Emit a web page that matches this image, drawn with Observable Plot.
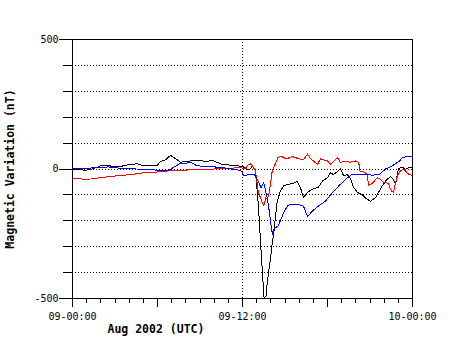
<!DOCTYPE html>
<html>
<head>
<meta charset="utf-8">
<script src="https://cdn.jsdelivr.net/npm/d3@7"></script>
<script src="https://cdn.jsdelivr.net/npm/@observablehq/plot@0.6"></script>
<style>
  html, body { margin: 0; padding: 0; background: #fff; }
  #chart svg { display: block; }
</style>
</head>
<body>
<div id="chart"></div>
<script>
// Hours since 2002-08-09 00:00 UTC, magnetic variation in nT
const blackHours = [0,0.56,0.92,1.41,1.98,2.47,2.9,3.39,4.1,4.6,5.0,5.5,6.0,6.2,6.56,6.92,7.27,7.62,8.12,8.68,9.39,9.95,10.24,10.59,11.15,11.65,12.0,12.28,12.56,12.7,12.92,13.13,13.34,13.52,13.66,13.76,13.98,14.12,14.22,14.45,14.68,14.91,15.25,15.6,15.86,16.09,16.3,16.59,16.94,17.36,17.65,18.0,18.21,18.42,18.7,18.92,19.13,19.41,19.62,19.83,20.12,20.47,20.75,21.04,21.39,21.81,22.16,22.45,22.66,22.8,23.01,23.3,23.5,23.72,24];
const blackValues = [0,-3,-5,0,12,15,8,10,18,20,13,15,15,28,35,53,40,26,30,33,30,32,25,17,15,12,10,0,0,12,-7,-148,-343,-497,-490,-432,-343,-278,-240,-124,-85,-65,-59,-55,-48,-72,-109,-90,-78,-70,-46,-34,-14,-22,-10,0,-25,-22,-38,-70,-91,-100,-115,-124,-110,-70,-42,-30,-40,-59,2,6,-2,5,8];

const redHours = [0,0.5,1.0,1.4,2.0,2.8,3.5,4.3,5.0,5.6,6.2,7.0,8.0,9.0,10,11,11.7,12.2,12.4,12.6,12.7,12.92,13.1,13.35,13.5,13.64,13.76,13.9,14.1,14.3,14.5,14.68,15.1,15.5,16.0,16.3,16.59,16.8,17.3,17.5,18.0,18.2,18.7,18.9,19.3,19.6,19.97,20.2,20.3,20.55,20.8,20.9,21.17,21.5,21.7,21.95,22.3,22.5,22.66,22.8,22.95,23.15,23.4,23.65,24];
const redValues = [-37,-38,-40,-38,-33,-28,-25,-20,-15,-14,-10,-6,-4,-2,0,2,5,3,16,20,12,-7,-85,-124,-143,-110,-117,-85,-7,18,44,50,39,48,39,35,58,40,18,39,31,18,44,26,30,26,31,26,-10,-10,-20,-62,-55,-34,-38,-52,-55,-85,-90,-52,-25,-7,0,-18,-25];

const blueHours = [0,1,2,2.5,3.0,3.5,4.5,5.5,6.2,6.8,7.1,7.6,8.4,8.8,9.7,10.9,11.6,11.9,12.1,12.5,12.8,13.05,13.3,13.5,13.76,13.9,14.1,14.2,14.5,14.68,14.9,15.17,15.4,15.88,16.3,16.59,16.94,17.36,17.86,18.35,18.8,19.27,19.76,20.47,21.18,21.67,22.1,22.6,23.08,23.3,23.8,24];
const blueValues = [2,3,6,8,5,2,0,-2,-6,-5,5,22,24,12,10,3,-3,-7,-25,-22,-20,-40,-72,-53,-116,-167,-252,-232,-220,-199,-169,-143,-136,-136,-143,-184,-162,-143,-124,-91,-65,-40,-20,-20,-24,-20,0,13,31,44,50,50];

const gridValues = [-400,-300,-200,-100,0,100,200,300,400];
const yTickValues = [-500,-400,-300,-200,-100,0,100,200,300,400,500];
const yLabelValues = [-500,0,500];
const xMinorTicks = d3.range(0,25,1);
const xMajorTicks = [0,6,12,18,24];
const xLabelValues = [0,12,24];
const xTickLabels = ["09-00:00","09-12:00","10-00:00"];
const yTitle = "Magnetic Variation (nT)";
const xTitle = "Aug 2002 (UTC)";

const toRows = (hs, vs) => hs.map((h, i) => ({h, v: vs[i]}));
const black = toRows(blackHours, blackValues);
const red = toRows(redHours, redValues);
const blue = toRows(blueHours, blueValues);

const font = "DejaVu Sans Mono, monospace";

const chart = Plot.plot({
  width: 452,
  height: 359,
  marginLeft: 72,
  marginRight: 40,
  marginTop: 39,
  marginBottom: 61,
  style: {fontFamily: font, fontSize: "10px", background: "#fff", color: "#000"},
  x: {domain: [0, 24], axis: null},
  y: {domain: [-500, 500], axis: null},
  marks: [
    Plot.ruleY(gridValues, {stroke: "#000", strokeDasharray: "1,2", strokeWidth: 1, shapeRendering: "crispEdges"}),
    Plot.ruleX([12], {stroke: "#000", strokeDasharray: "1,2", strokeWidth: 1, shapeRendering: "crispEdges"}),
    Plot.line(black, {x: "h", y: "v", stroke: "#000", strokeWidth: 1, shapeRendering: "crispEdges"}),
    Plot.line(red, {x: "h", y: "v", stroke: "#ff0000", strokeWidth: 1, shapeRendering: "crispEdges"}),
    Plot.line(blue, {x: "h", y: "v", stroke: "#0000ff", strokeWidth: 1, shapeRendering: "crispEdges"}),
    Plot.frame({stroke: "#000", strokeWidth: 1, shapeRendering: "crispEdges"}),
    Plot.axisX({ticks: xMinorTicks, tickSize: 5, text: null, label: null, stroke: "#000", shapeRendering: "crispEdges"}),
    Plot.axisX({ticks: xMajorTicks, tickSize: 9, text: null, label: null, stroke: "#000", shapeRendering: "crispEdges"}),
    Plot.axisX({ticks: xLabelValues, tickSize: 0, tickPadding: 14, label: null,
      tickFormat: d => xTickLabels[xLabelValues.indexOf(d)], fill: "#000", fontSize: 10}),
    Plot.axisY({ticks: yTickValues, tickSize: 9, text: null, label: null, stroke: "#000", shapeRendering: "crispEdges"}),
    Plot.axisY({ticks: yLabelValues, tickSize: 13, tickPadding: 1, label: null,
      tickFormat: d => String(d), fill: "#000", stroke: "#000", fontSize: 10, shapeRendering: "crispEdges"}),
    Plot.text([yTitle], {frameAnchor: "left", dx: -62, rotate: -90, text: d => d,
      fontWeight: "bold", fontSize: 11.5, fill: "#000", textAnchor: "middle", lineAnchor: "middle"}),
    Plot.text([xTitle], {frameAnchor: "bottom-left", dx: 35, dy: 31, text: d => d,
      fontWeight: "bold", fontSize: 11.5, fill: "#000", textAnchor: "start", lineAnchor: "middle"})
  ]
});
document.getElementById("chart").appendChild(chart);
</script>
</body>
</html>
